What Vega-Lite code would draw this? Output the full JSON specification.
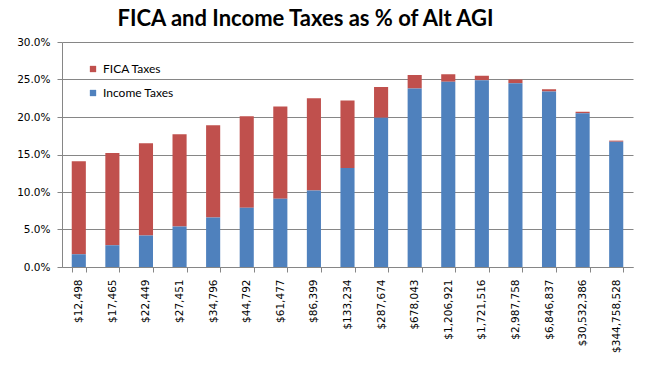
{
  "$schema": "https://vega.github.io/schema/vega-lite/v6.json",
  "autosize": "none",
  "width": 571,
  "height": 225,
  "padding": {"left": 62, "top": 42, "right": 27, "bottom": 103},
  "background": "white",
  "title": {
    "text": "FICA and Income Taxes as % of Alt AGI",
    "font": "Lato",
    "fontSize": 22,
    "fontWeight": "bold",
    "color": "black",
    "anchor": "middle",
    "dx": -42,
    "offset": 6
  },
  "data": {
    "values": [
      {"agi": "$12,498", "Income Taxes": 0.017, "FICA Taxes": 0.124},
      {"agi": "$17,465", "Income Taxes": 0.029, "FICA Taxes": 0.123},
      {"agi": "$22,449", "Income Taxes": 0.042, "FICA Taxes": 0.123},
      {"agi": "$27,451", "Income Taxes": 0.054, "FICA Taxes": 0.123},
      {"agi": "$34,796", "Income Taxes": 0.066, "FICA Taxes": 0.123},
      {"agi": "$44,792", "Income Taxes": 0.079, "FICA Taxes": 0.122},
      {"agi": "$61,477", "Income Taxes": 0.091, "FICA Taxes": 0.123},
      {"agi": "$86,399", "Income Taxes": 0.102, "FICA Taxes": 0.123},
      {"agi": "$133,234", "Income Taxes": 0.132, "FICA Taxes": 0.090},
      {"agi": "$287,674", "Income Taxes": 0.199, "FICA Taxes": 0.041},
      {"agi": "$678,043", "Income Taxes": 0.238, "FICA Taxes": 0.018},
      {"agi": "$1,206,921", "Income Taxes": 0.247, "FICA Taxes": 0.010},
      {"agi": "$1,721,516", "Income Taxes": 0.249, "FICA Taxes": 0.006},
      {"agi": "$2,987,758", "Income Taxes": 0.245, "FICA Taxes": 0.005},
      {"agi": "$6,846,837", "Income Taxes": 0.234, "FICA Taxes": 0.003},
      {"agi": "$30,532,386", "Income Taxes": 0.205, "FICA Taxes": 0.002},
      {"agi": "$344,758,528", "Income Taxes": 0.167, "FICA Taxes": 0.0015}
    ]
  },
  "transform": [
    {"fold": ["FICA Taxes", "Income Taxes"], "as": ["type", "value"]}
  ],
  "mark": {"type": "bar"},
  "encoding": {
    "x": {
      "field": "agi",
      "type": "nominal",
      "sort": null,
      "scale": {"paddingInner": 0.58, "paddingOuter": 0.29},
      "axis": {
        "title": null,
        "labelAngle": -90,
        "labelFont": "DejaVu Sans",
        "labelFontSize": 10.5,
        "labelColor": "black",
        "labelPadding": 7,
        "tickBand": "extent",
        "tickColor": "#868686",
        "tickSize": 5,
        "domainColor": "#868686",
        "grid": false
      }
    },
    "y": {
      "field": "value",
      "type": "quantitative",
      "stack": "zero",
      "scale": {"domain": [0, 0.3], "nice": false},
      "axis": {
        "title": null,
        "format": ".1%",
        "values": [0, 0.05, 0.1, 0.15, 0.2, 0.25, 0.3],
        "labelFont": "DejaVu Sans",
        "labelFontSize": 10.5,
        "labelColor": "black",
        "labelPadding": 7,
        "tickColor": "#868686",
        "tickSize": 5,
        "domainColor": "#868686",
        "grid": true,
        "gridColor": "#868686",
        "gridWidth": 1
      }
    },
    "color": {
      "field": "type",
      "type": "nominal",
      "scale": {"domain": ["FICA Taxes", "Income Taxes"], "range": ["#C0504D", "#4F81BD"]},
      "legend": {
        "title": null,
        "orient": "none",
        "legendX": 25,
        "legendY": 21,
        "symbolType": "square",
        "symbolSize": 40,
        "symbolStrokeWidth": 0,
        "labelFont": "Lato",
        "labelFontSize": 12,
        "labelColor": "black",
        "rowPadding": 12,
        "padding": 0
      }
    },
    "order": {"field": "type", "sort": "descending"}
  },
  "config": {
    "view": {"stroke": null}
  }
}
